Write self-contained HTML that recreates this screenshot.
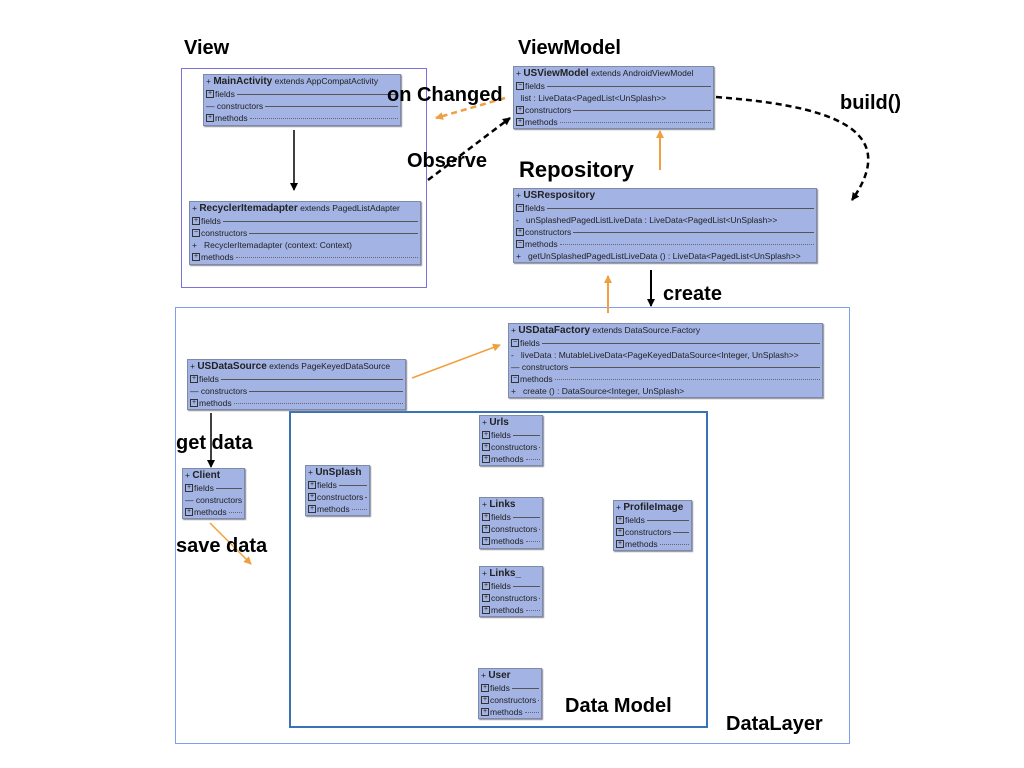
<!DOCTYPE html>
<html><head><meta charset="utf-8"><style>
body{margin:0;width:1024px;height:768px;background:#fff;position:relative;overflow:hidden;font-family:"Liberation Sans",sans-serif}
.b{position:absolute;background:#a2b3e4;border:1px solid #7d8aa8;box-shadow:1px 1px 1px #889;font-size:8.5px;color:#222;box-sizing:border-box;padding:0 2px;overflow:hidden}
.t{height:13px;line-height:13px;white-space:nowrap;font-size:8.5px}
.t b{font-size:10px}
.r{display:flex;align-items:center;height:12px;white-space:nowrap}
.r.l::after{content:"";flex:1;border-top:1px solid #555;margin-left:2px}
.r.d::after{content:"";flex:1;border-top:1px dotted #667;margin-left:2px}
.p{display:inline-block;width:6px;height:6px;border:1px solid #333;font-size:7px;line-height:6px;text-align:center;margin-right:1px}
.lab{position:absolute;font-weight:bold;font-size:20px;color:#000;white-space:nowrap;z-index:5}
.fr{position:absolute;box-sizing:border-box}
svg{z-index:4}
</style></head><body>
<div class="fr" style="left:181px;top:68px;width:246px;height:220px;border:1px solid #7b72d8"></div>
<div class="fr" style="left:175px;top:307px;width:675px;height:437px;border:1px solid #7f9fec"></div>
<div class="fr" style="left:289px;top:411px;width:419px;height:317px;border:2px solid #3a72b8"></div>

<div class="b" style="left:203px;top:74px;width:198px;height:52px">
<div class="t">+ <b>MainActivity</b> extends AppCompatActivity</div>
<div class="r l"><span class="p">+</span>fields</div>
<div class="r l">— constructors</div>
<div class="r d"><span class="p">+</span>methods</div></div>

<div class="b" style="left:189px;top:201px;width:232px;height:64px">
<div class="t">+ <b>RecyclerItemadapter</b> extends PagedListAdapter</div>
<div class="r l"><span class="p">+</span>fields</div>
<div class="r l"><span class="p">−</span>constructors</div>
<div class="r">+ &nbsp; RecyclerItemadapter (context: Context)</div>
<div class="r d"><span class="p">+</span>methods</div></div>

<div class="b" style="left:513px;top:66px;width:201px;height:63px">
<div class="t">+ <b>USViewModel</b> extends AndroidViewModel</div>
<div class="r l"><span class="p">−</span>fields</div>
<div class="r">&nbsp; list : LiveData&lt;PagedList&lt;UnSplash&gt;&gt;</div>
<div class="r l"><span class="p">+</span>constructors</div>
<div class="r d"><span class="p">+</span>methods</div></div>

<div class="b" style="left:513px;top:188px;width:304px;height:75px">
<div class="t">+ <b>USRespository</b></div>
<div class="r l"><span class="p">−</span>fields</div>
<div class="r">- &nbsp; unSplashedPagedListLiveData : LiveData&lt;PagedList&lt;UnSplash&gt;&gt;</div>
<div class="r l"><span class="p">+</span>constructors</div>
<div class="r d"><span class="p">−</span>methods</div>
<div class="r">+ &nbsp; getUnSplashedPagedListLiveData () : LiveData&lt;PagedList&lt;UnSplash&gt;&gt;</div></div>

<div class="b" style="left:508px;top:323px;width:315px;height:75px">
<div class="t">+ <b>USDataFactory</b> extends DataSource.Factory</div>
<div class="r l"><span class="p">−</span>fields</div>
<div class="r">- &nbsp; liveData : MutableLiveData&lt;PageKeyedDataSource&lt;Integer, UnSplash&gt;&gt;</div>
<div class="r l">— constructors</div>
<div class="r d"><span class="p">−</span>methods</div>
<div class="r">+ &nbsp; create () : DataSource&lt;Integer, UnSplash&gt;</div></div>

<div class="b" style="left:187px;top:359px;width:219px;height:51px">
<div class="t">+ <b>USDataSource</b> extends PageKeyedDataSource</div>
<div class="r l"><span class="p">+</span>fields</div>
<div class="r l">— constructors</div>
<div class="r d"><span class="p">+</span>methods</div></div>

<div class="b" style="left:182px;top:468px;width:63px;height:51px">
<div class="t">+ <b>Client</b></div>
<div class="r l"><span class="p">+</span>fields</div>
<div class="r l">— constructors</div>
<div class="r d"><span class="p">+</span>methods</div></div>

<div class="b" style="left:305px;top:465px;width:65px;height:51px">
<div class="t">+ <b>UnSplash</b></div>
<div class="r l"><span class="p">+</span>fields</div>
<div class="r l"><span class="p">+</span>constructors</div>
<div class="r d"><span class="p">+</span>methods</div></div>

<div class="b" style="left:479px;top:415px;width:64px;height:51px">
<div class="t">+ <b>Urls</b></div>
<div class="r l"><span class="p">+</span>fields</div>
<div class="r l"><span class="p">+</span>constructors</div>
<div class="r d"><span class="p">+</span>methods</div></div>

<div class="b" style="left:479px;top:497px;width:64px;height:52px">
<div class="t">+ <b>Links</b></div>
<div class="r l"><span class="p">+</span>fields</div>
<div class="r l"><span class="p">+</span>constructors</div>
<div class="r d"><span class="p">+</span>methods</div></div>

<div class="b" style="left:479px;top:566px;width:64px;height:51px">
<div class="t">+ <b>Links_</b></div>
<div class="r l"><span class="p">+</span>fields</div>
<div class="r l"><span class="p">+</span>constructors</div>
<div class="r d"><span class="p">+</span>methods</div></div>

<div class="b" style="left:478px;top:668px;width:64px;height:51px">
<div class="t">+ <b>User</b></div>
<div class="r l"><span class="p">+</span>fields</div>
<div class="r l"><span class="p">+</span>constructors</div>
<div class="r d"><span class="p">+</span>methods</div></div>

<div class="b" style="left:613px;top:500px;width:79px;height:51px">
<div class="t">+ <b>ProfileImage</b></div>
<div class="r l"><span class="p">+</span>fields</div>
<div class="r l"><span class="p">+</span>constructors</div>
<div class="r d"><span class="p">+</span>methods</div></div>

<div class="lab" style="left:184px;top:37px">View</div>
<div class="lab" style="left:518px;top:37px">ViewModel</div>
<div class="lab" style="left:387px;top:84px">on Changed</div>
<div class="lab" style="left:407px;top:150px">Observe</div>
<div class="lab" style="left:840px;top:92px">build()</div>
<div class="lab" style="left:519px;top:157px;font-size:22px">Repository</div>
<div class="lab" style="left:663px;top:283px">create</div>
<div class="lab" style="left:176px;top:432px">get data</div>
<div class="lab" style="left:176px;top:535px">save data</div>
<div class="lab" style="left:565px;top:695px">Data Model</div>
<div class="lab" style="left:726px;top:713px">DataLayer</div>

<svg width="1024" height="768" style="position:absolute;left:0;top:0;pointer-events:none">
<defs>
<marker id="ak" markerWidth="8" markerHeight="8" refX="7" refY="4" orient="auto" markerUnits="userSpaceOnUse"><path d="M0,0 L8,4 L0,8 z" fill="#000"/></marker>
<marker id="ao" markerWidth="8" markerHeight="8" refX="7" refY="4" orient="auto" markerUnits="userSpaceOnUse"><path d="M0,0 L8,4 L0,8 z" fill="#f0a040"/></marker>
</defs>
<line x1="294" y1="130" x2="294" y2="190" stroke="#000" stroke-width="1.5" marker-end="url(#ak)"/>
<line x1="505" y1="98" x2="436" y2="118" stroke="#f0a040" stroke-width="2.5" stroke-dasharray="6,4" marker-end="url(#ao)"/>
<line x1="428" y1="180" x2="510" y2="118" stroke="#000" stroke-width="2.5" stroke-dasharray="6,4" marker-end="url(#ak)"/>
<path d="M716,97 C820,105 905,125 852,200" fill="none" stroke="#000" stroke-width="2.5" stroke-dasharray="6,4" marker-end="url(#ak)"/>
<line x1="660" y1="170" x2="660" y2="131" stroke="#f0a040" stroke-width="2" marker-end="url(#ao)"/>
<line x1="608" y1="313" x2="608" y2="276" stroke="#f0a040" stroke-width="2" marker-end="url(#ao)"/>
<line x1="651" y1="270" x2="651" y2="306" stroke="#000" stroke-width="2" marker-end="url(#ak)"/>
<line x1="412" y1="378" x2="500" y2="345" stroke="#f0a040" stroke-width="1.5" marker-end="url(#ao)"/>
<line x1="211" y1="413" x2="211" y2="467" stroke="#000" stroke-width="1.5" marker-end="url(#ak)"/>
<line x1="210" y1="523" x2="251" y2="564" stroke="#f0a040" stroke-width="1.5" marker-end="url(#ao)"/>
</svg>
</body></html>
